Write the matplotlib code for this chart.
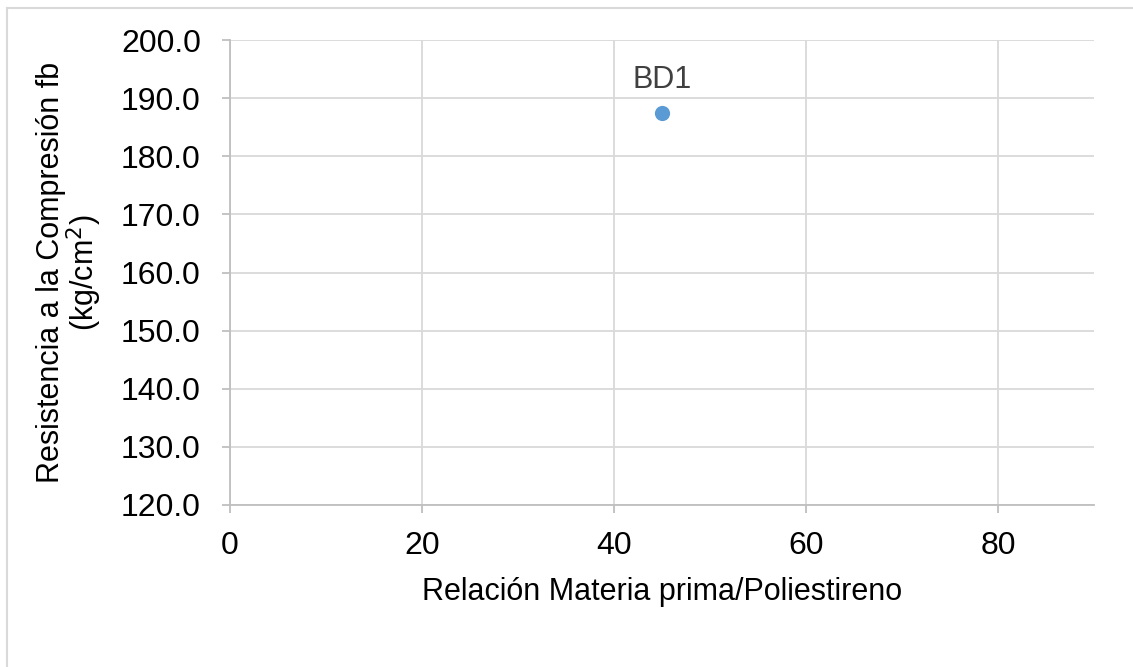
import matplotlib
matplotlib.use("Agg")
import matplotlib.pyplot as plt
from matplotlib.lines import Line2D

plt.rcParams['font.family'] = ['Liberation Sans', 'DejaVu Sans']

# data
x_vals = [45]
y_vals = [187.5]
point_labels = ['BD1']
x_ticks = [0, 20, 40, 60, 80]
y_ticks = [120, 130, 140, 150, 160, 170, 180, 190, 200]

fig = plt.figure(figsize=(11.33, 6.67), dpi=100)
ax = fig.add_axes([0.2030, 0.2429, 0.7626, 0.6971])

# chart area border (only top/left visible in the picture)
bx, by = 6.5 / 1133, 1 - 7.5 / 667
fig.add_artist(Line2D([bx, 1.0], [by, by], transform=fig.transFigure,
                      color='#d9d9d9', linewidth=1.5))
fig.add_artist(Line2D([bx, bx], [0.0, by], transform=fig.transFigure,
                      color='#d9d9d9', linewidth=1.5))

ax.scatter(x_vals, y_vals, s=120, color='#5b9bd5', zorder=3, linewidths=0)
for xv, yv, lab in zip(x_vals, y_vals, point_labels):
    ax.annotate(lab, (xv, yv), xytext=(0, 13), textcoords='offset points',
                ha='center', va='bottom', fontsize=22, color='#404040')

ax.set_xlim(0, 90)
ax.set_ylim(120, 200)
ax.set_xticks(x_ticks)
ax.set_yticks(y_ticks)
ax.set_yticklabels([f'{v:.1f}' for v in y_ticks])

ax.grid(True, color='#d9d9d9', linewidth=1.3)
ax.set_axisbelow(True)
for s in ['top', 'right']:
    ax.spines[s].set_visible(False)
for s in ['left', 'bottom']:
    ax.spines[s].set_color('#bfbfbf')
    ax.spines[s].set_linewidth(1.3)

ax.tick_params(axis='both', labelsize=23, colors='#bfbfbf', labelcolor='black',
               length=6, width=1.3, direction='out')
ax.tick_params(axis='y', pad=15)
ax.tick_params(axis='x', pad=13)

ax.set_xlabel('Relación Materia prima/Poliestireno', fontsize=22, labelpad=11)
ax.set_ylabel('Resistencia a la Compresión fb\n(kg/cm$^2$)', fontsize=22,
              labelpad=12, linespacing=0.95)

fig.savefig('out.png', dpi=100)
